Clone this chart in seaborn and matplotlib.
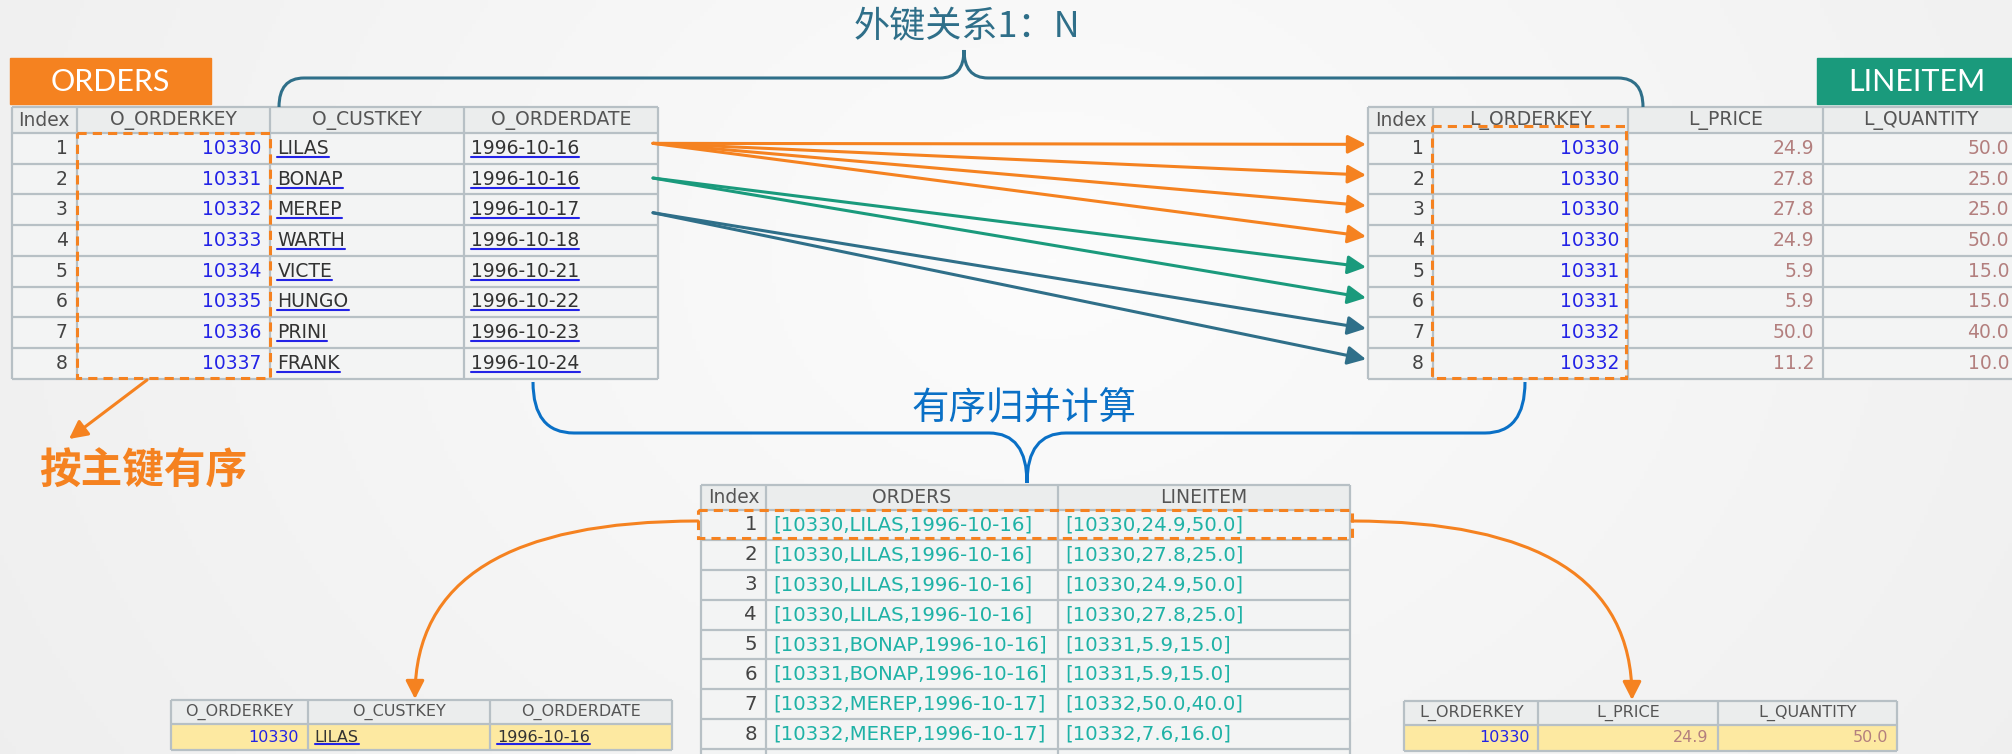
import numpy as np
import seaborn as sns
import matplotlib.pyplot as plt
from matplotlib.colors import ListedColormap, LinearSegmentedColormap
from matplotlib.patches import Rectangle, PathPatch
from matplotlib.path import Path

# ORDERS table
order_keys = [10330, 10331, 10332, 10333, 10334, 10335, 10336, 10337]
order_custs = ["LILAS", "BONAP", "MEREP", "WARTH", "VICTE", "HUNGO", "PRINI", "FRANK"]
order_dates = ["1996-10-16", "1996-10-16", "1996-10-17", "1996-10-18",
               "1996-10-21", "1996-10-22", "1996-10-23", "1996-10-24"]
# LINEITEM table
line_keys = [10330, 10330, 10330, 10330, 10331, 10331, 10332, 10332]
line_prices = [24.9, 27.8, 27.8, 24.9, 5.9, 5.9, 50.0, 11.2]
line_qtys = [50.0, 25.0, 25.0, 50.0, 15.0, 15.0, 40.0, 10.0]
# order row that each lineitem row points back to
join_order_row = [0, 0, 0, 0, 1, 1, 2, 2]
# merged result
merged_orders = ["[10330,LILAS,1996-10-16]"] * 4 + ["[10331,BONAP,1996-10-16]"] * 2 + \
                ["[10332,MEREP,1996-10-17]"] * 2
merged_items = ["[10330,24.9,50.0]", "[10330,27.8,25.0]", "[10330,24.9,50.0]", "[10330,27.8,25.0]",
                "[10331,5.9,15.0]", "[10331,5.9,15.0]", "[10332,50.0,40.0]", "[10332,7.6,16.0]"]

orders_cols = ["Index", "O_ORDERKEY", "O_CUSTKEY", "O_ORDERDATE"]
line_cols = ["Index", "L_ORDERKEY", "L_PRICE", "L_QUANTITY"]
merged_cols = ["Index", "ORDERS", "LINEITEM"]

ORANGE = "#F58220"
GREEN = "#1A9A7C"
TEAL_BLUE = "#2F6F89"
MERGE_BLUE = "#0A70C6"
HEAD_BG = "#EBEDED"
BODY_BG = "#F3F4F4"
YELLOW = "#FDE9A1"
GRID = "#B7C0C5"
HEAD_FG = "#555555"
KEY_BLUE = "#2323E6"
ROSE = "#B37F7E"
CYAN = "#1FB2A6"
LINK_COLORS = {0: ORANGE, 1: GREEN, 2: TEAL_BLUE}
CJK = ["Noto Sans CJK SC", "DejaVu Sans"]

sns.set_theme(style="white")
plt.rcParams["font.family"] = ["DejaVu Sans", "Noto Sans CJK SC"]

W, H = 2012, 754
fig = plt.figure(figsize=(W / 100, H / 100), dpi=100)

# soft background
bg = fig.add_axes([0, 0, 1, 1], zorder=0)
yy, xx = np.mgrid[0:H:4, 0:W:4]
shade = np.clip(np.hypot(xx - 1050, (yy - 260) / 0.8) / 1300, 0, 1)
bg.imshow(shade, cmap=LinearSegmentedColormap.from_list("bg", ["#FCFCFC", "#EEEEEE"]),
          extent=(0, W, H, 0), aspect="auto", vmin=0, vmax=1)
bg.axis("off")

underlined = []


def draw_table(left, top, width, head_h, row_h, units, headers, n_body, body_color, n_extra=0,
               size=13.5, head_size=None):
    n = n_body + 1 + n_extra
    cut = 1 - head_h / row_h
    height = head_h + row_h * (n - 1)
    ax = fig.add_axes([left / W, 1 - (top + height) / H, width / W, height / H], zorder=1)
    shades = np.ones((n, sum(units)))
    shades[0] = 0
    sns.heatmap(shades, cmap=ListedColormap([HEAD_BG, body_color]), vmin=0, vmax=1, cbar=False,
                xticklabels=False, yticklabels=False, ax=ax)
    ax.set_ylim(n, cut)
    ax.axis("off")
    edges = np.concatenate([[0], np.cumsum(units)])
    ax.hlines([cut] + list(range(1, n + 1)), 0, edges[-1], color=GRID, lw=1.6, clip_on=False)
    ax.vlines(edges, cut, n, color=GRID, lw=1.6, clip_on=False)
    for j, name in enumerate(headers):
        ax.text((edges[j] + edges[j + 1]) / 2, (cut + 1) / 2, name, ha="center", va="center",
                color=HEAD_FG, fontsize=head_size or size)
    return dict(ax=ax, edges=edges, px=width / sum(units), top=top, head_h=head_h, row_h=row_h, size=size)


def fill_col(t, j, values, align, color, underline=False):
    e = t["edges"]
    x = e[j + 1] - 9 / t["px"] if align == "right" else e[j] + 7 / t["px"]
    for i, v in enumerate(values):
        txt = t["ax"].text(x, i + 1.5, str(v), ha=align, va="center", color=color, fontsize=t["size"])
        if underline:
            underlined.append(txt)


def row_y(t, i):
    return t["top"] + t["head_h"] + t["row_h"] * (i + 0.5)


# ORDERS
orders_t = draw_table(12, 107, 646, 26, 30.7, [1, 3, 3, 3], orders_cols, len(order_keys), BODY_BG)
fill_col(orders_t, 0, range(1, len(order_keys) + 1), "right", "#444444")
fill_col(orders_t, 1, order_keys, "right", KEY_BLUE)
fill_col(orders_t, 2, order_custs, "left", "#333333", underline=True)
fill_col(orders_t, 3, order_dates, "left", "#333333", underline=True)

# LINEITEM
line_t = draw_table(1368, 107, 650, 26, 30.7, [1, 3, 3, 3], line_cols, len(line_keys), BODY_BG)
fill_col(line_t, 0, range(1, len(line_keys) + 1), "right", "#444444")
fill_col(line_t, 1, line_keys, "right", KEY_BLUE)
fill_col(line_t, 2, [f"{v:.1f}" for v in line_prices], "right", ROSE)
fill_col(line_t, 3, [f"{v:.1f}" for v in line_qtys], "right", ROSE)

# merged result
merged_t = draw_table(701, 485, 649, 25, 29.9, [2, 9, 9], merged_cols, len(merged_orders), BODY_BG,
                      n_extra=1, size=14.2, head_size=13.5)
fill_col(merged_t, 0, range(1, len(merged_orders) + 1), "right", "#444444")
fill_col(merged_t, 1, merged_orders, "left", CYAN)
fill_col(merged_t, 2, merged_items, "left", CYAN)

# single joined row, split back out
bl_t = draw_table(171, 700, 501, 24, 26, [3, 4, 4], orders_cols[1:], 1, YELLOW, size=11.5)
fill_col(bl_t, 0, order_keys[:1], "right", KEY_BLUE)
fill_col(bl_t, 1, order_custs[:1], "left", "#333333", underline=True)
fill_col(bl_t, 2, order_dates[:1], "left", "#333333", underline=True)

br_t = draw_table(1404, 701, 493, 24, 26, [3, 4, 4], line_cols[1:], 1, YELLOW, size=11.5)
fill_col(br_t, 0, line_keys[:1], "right", KEY_BLUE)
fill_col(br_t, 1, [f"{v:.1f}" for v in line_prices[:1]], "right", ROSE)
fill_col(br_t, 2, [f"{v:.1f}" for v in line_qtys[:1]], "right", ROSE)

# overlay for labels, arrows and braces
ov = fig.add_axes([0, 0, 1, 1], zorder=5)
ov.set_xlim(0, W)
ov.set_ylim(H, 0)
ov.axis("off")

ov.add_patch(Rectangle((10, 58), 201, 46, color=ORANGE))
ov.text(110, 82, "ORDERS", color="white", fontsize=22, ha="center", va="center", family=["Lato", "DejaVu Sans"])
ov.add_patch(Rectangle((1817, 58), 200, 46, color=GREEN))
ov.text(1917, 82, "LINEITEM", color="white", fontsize=22, ha="center", va="center", family=["Lato", "DejaVu Sans"])

dash = (0, (3, 2))
ov.add_patch(Rectangle((77, 133), 193, 245, fill=False, ec=ORANGE, lw=2.2, ls=dash))
ov.add_patch(Rectangle((1432, 126), 194, 252, fill=False, ec=ORANGE, lw=2.2, ls=dash))
ov.add_patch(Rectangle((698, 510), 654, 28, fill=False, ec=ORANGE, lw=2.2, ls=dash))

head = "-|>,head_length=0.55,head_width=0.28"
for k, orow in enumerate(join_order_row):
    start = (653, row_y(orders_t, orow) - 5 + 4 * orow)
    ov.annotate("", xy=(1366, row_y(line_t, k) - 4), xytext=start,
                arrowprops=dict(arrowstyle=head, color=LINK_COLORS[orow], lw=2.2,
                                mutation_scale=20, shrinkA=0, shrinkB=0))

ov.annotate("", xy=(69, 439), xytext=(147, 380),
            arrowprops=dict(arrowstyle=head, color=ORANGE, lw=2.2, mutation_scale=20, shrinkA=0, shrinkB=0))
ov.annotate("", xy=(415, 699), xytext=(698, 521),
            arrowprops=dict(arrowstyle=head, color=ORANGE, lw=2.2, mutation_scale=20, shrinkA=0, shrinkB=0,
                            connectionstyle="angle3,angleA=180,angleB=90"))
ov.annotate("", xy=(1632, 700), xytext=(1352, 521),
            arrowprops=dict(arrowstyle=head, color=ORANGE, lw=2.2, mutation_scale=20, shrinkA=0, shrinkB=0,
                            connectionstyle="angle3,angleA=0,angleB=90"))

M, L, C = Path.MOVETO, Path.LINETO, Path.CURVE3
brace_codes = [M, C, C, L, C, C, C, C, L, C, C]
top_brace = [(279, 107), (279, 78), (304, 78), (940, 78), (964, 78), (964, 50),
             (964, 78), (988, 78), (1618, 78), (1643, 78), (1643, 107)]
low_brace = [(533, 382), (533, 433), (574, 433), (989, 433), (1027, 433), (1027, 483),
             (1027, 433), (1066, 433), (1485, 433), (1525, 433), (1525, 382)]
ov.add_patch(PathPatch(Path(top_brace, brace_codes), fill=False, ec=TEAL_BLUE, lw=2.2))
ov.add_patch(PathPatch(Path(low_brace, brace_codes), fill=False, ec=MERGE_BLUE, lw=2.2))

ov.text(967, 27, "外键关系1：N", color=TEAL_BLUE, fontsize=26, ha="center", va="center", family=CJK)
ov.text(1024, 409, "有序归并计算", color=MERGE_BLUE, fontsize=27, ha="center", va="center", family=CJK)
ov.text(143, 472, "按主键有序", color=ORANGE, fontsize=30, ha="center", va="center", family=CJK,
        fontweight="bold")

# underline the link-style cells
fig.canvas.draw()
rend = fig.canvas.get_renderer()
inv = ov.transData.inverted()
for txt in underlined:
    bb = txt.get_window_extent(rend)
    (x0, y0), (x1, _) = inv.transform([(bb.x0, bb.y0 + 1), (bb.x1, bb.y0 + 1)])
    ov.plot([x0, x1], [y0, y0], color=KEY_BLUE, lw=1.5)

fig.savefig("out.png", dpi=100)
